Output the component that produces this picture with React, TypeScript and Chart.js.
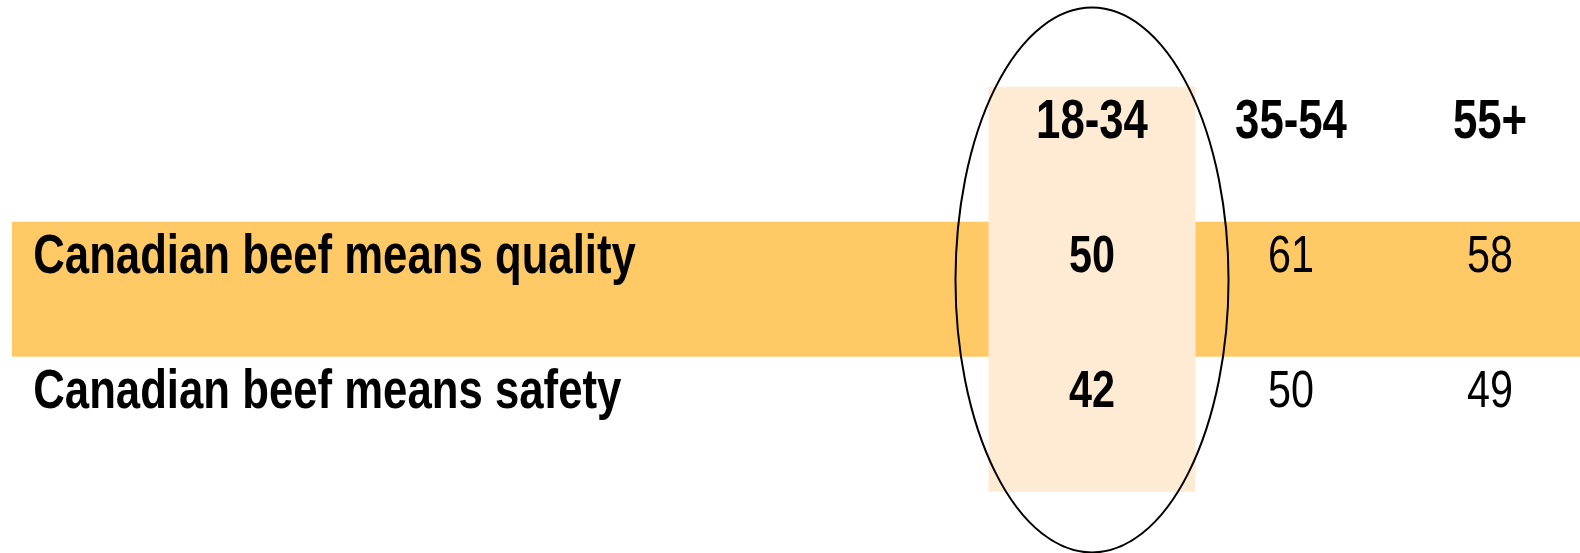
import React, { useEffect, useRef } from 'react';
import { Chart, registerables } from 'chart.js';

Chart.register(...registerables);

// ---- Data ----
const columns: string[] = ['18-34', '35-54', '55+'];
const rowLabels: string[] = ['Canadian beef means quality', 'Canadian beef means safety'];
const qualityValues: number[] = [50, 61, 58];
const safetyValues: number[] = [42, 50, 49];
const rowValues: number[][] = [qualityValues, safetyValues];
const shadedRows: boolean[] = [true, false];
const highlightedColumn = 0;

// ---- Style ----
const BAND_COLOR = '#FFC966';
const HIGHLIGHT_COLOR = '#FFEBD3';
const FONT_FAMILY = '"Liberation Sans Narrow", "Arial Narrow", "Liberation Sans", Arial, sans-serif';
const TEXT_STRETCH = 0.795; // condensed look
const LABEL_X = -5.32; // label column position in column units
const BAND_LEFT = -5.427;
const CELL_TOP = -0.232;
const CELL_BOTTOM = 0.768;
const ELLIPSE_CY = 1.2;
const ELLIPSE_RX = 0.686;
const ELLIPSE_RY = 2.018;

const tablePlugin = {
  id: 'tablePlugin',
  beforeDatasetsDraw(chart: any) {
    const { ctx, scales } = chart;
    const x = scales.x;
    const y = scales.y;
    const right = chart.chartArea.right;
    ctx.save();
    shadedRows.forEach((shaded, i) => {
      if (!shaded) return;
      const r = i + 1;
      const top = y.getPixelForValue(r + CELL_TOP);
      const bot = y.getPixelForValue(r + CELL_BOTTOM);
      const left = x.getPixelForValue(BAND_LEFT);
      ctx.fillStyle = BAND_COLOR;
      ctx.fillRect(left, top, right - left, bot - top);
    });
    {
      const l = x.getPixelForValue(highlightedColumn - 0.52);
      const rr = x.getPixelForValue(highlightedColumn + 0.52);
      const top = y.getPixelForValue(0 + CELL_TOP);
      const bot = y.getPixelForValue(rowLabels.length + CELL_BOTTOM);
      ctx.fillStyle = HIGHLIGHT_COLOR;
      ctx.fillRect(l, top, rr - l, bot - top);
    }
    ctx.restore();
  },
  afterDatasetsDraw(chart: any) {
    const { ctx, scales } = chart;
    const x = scales.x;
    const y = scales.y;
    ctx.save();
    ctx.fillStyle = '#000';
    const drawText = (text: string, px: number, row: number, size: number, bold: boolean, align: CanvasTextAlign) => {
      ctx.save();
      ctx.font = `${bold ? 'bold ' : ''}${size}px ${FONT_FAMILY}`;
      ctx.textAlign = align;
      ctx.textBaseline = 'alphabetic';
      const py = y.getPixelForValue(row) + size * 0.716 / 2;
      ctx.translate(px, py);
      ctx.scale(TEXT_STRETCH, 1);
      ctx.fillText(text, 0, 0);
      ctx.restore();
    };
    columns.forEach((c, ci) => {
      drawText(c, x.getPixelForValue(ci), 0, 55, true, 'center');
    });
    rowLabels.forEach((label, ri) => {
      drawText(label, x.getPixelForValue(LABEL_X), ri + 1, 55, true, 'left');
      rowValues[ri].forEach((v, ci) => {
        drawText(String(v), x.getPixelForValue(ci), ri + 1, 52, ci === highlightedColumn, 'center');
      });
    });
    const cx = x.getPixelForValue(highlightedColumn);
    const cy = y.getPixelForValue(ELLIPSE_CY);
    const rx = Math.abs(x.getPixelForValue(highlightedColumn + ELLIPSE_RX) - cx);
    const ry = Math.abs(y.getPixelForValue(ELLIPSE_CY + ELLIPSE_RY) - cy);
    ctx.beginPath();
    ctx.ellipse(cx, cy, rx, ry, 0, 0, Math.PI * 2);
    ctx.strokeStyle = '#000';
    ctx.lineWidth = 2;
    ctx.stroke();
    ctx.restore();
  },
};

export default function App() {
  const canvasRef = useRef<HTMLCanvasElement | null>(null);

  useEffect(() => {
    document.body.style.margin = '0';
    const canvas = canvasRef.current;
    if (!canvas) return;
    const points: { x: number; y: number }[] = [];
    rowValues.forEach((vals, ri) => vals.forEach((_, ci) => points.push({ x: ci, y: ri + 1 })));
    const chart = new Chart(canvas, {
      type: 'scatter',
      data: {
        datasets: [
          {
            data: points,
            pointRadius: 0,
            pointHoverRadius: 0,
          },
        ],
      },
      options: {
        animation: false,
        responsive: false,
        maintainAspectRatio: false,
        layout: { padding: 0 },
        plugins: { legend: { display: false }, tooltip: { enabled: false }, title: { display: false } },
        events: [],
        scales: {
          x: { type: 'linear', min: -5.487, max: 2.452, display: false },
          y: { type: 'linear', min: -0.874, max: 3.222, reverse: true, display: false },
        },
      },
      plugins: [tablePlugin],
    });
    return () => chart.destroy();
  }, []);

  return (
    <div style={{ width: 1580, height: 553, background: '#fff' }}>
      <canvas ref={canvasRef} width={1580} height={553} style={{ display: 'block' }} />
    </div>
  );
}
